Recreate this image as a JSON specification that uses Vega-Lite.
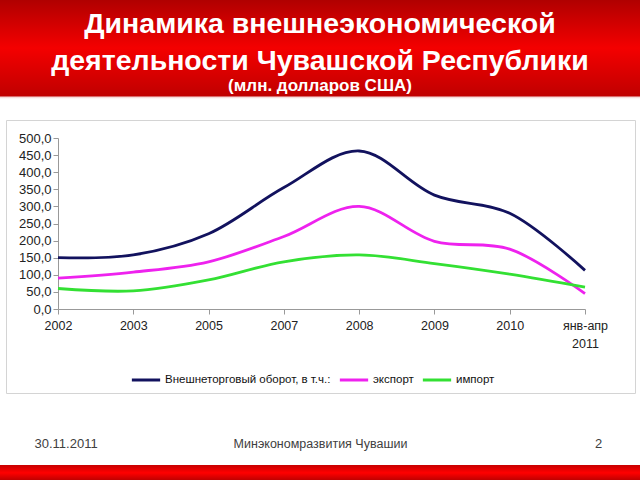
{
  "$schema": "https://vega.github.io/schema/vega-lite/v6.json",
  "width": 640,
  "height": 480,
  "padding": 0,
  "autosize": {"type": "none"},
  "background": "white",
  "view": {
    "stroke": null,
    "fill": {
      "gradient": "linear", "x1": 0, "y1": 0, "x2": 0, "y2": 1,
      "stops": [
        {"offset": 0, "color": "#b00000"},
        {"offset": 0.1, "color": "#f40000"},
        {"offset": 0.2, "color": "#c00000"},
        {"offset": 0.202, "color": "#f2d0d0"},
        {"offset": 0.206, "color": "#ffffff"},
        {"offset": 0.968, "color": "#ffffff"},
        {"offset": 0.969, "color": "#c80000"},
        {"offset": 0.985, "color": "#ff0000"},
        {"offset": 1, "color": "#c00000"}
      ]
    }
  },
  "title": {
    "text": ["Динамика внешнеэкономической", "деятельности Чувашской Республики"],
    "subtitle": "(млн. долларов США)",
    "anchor": "middle",
    "frame": "group",
    "offset": -94,
    "font": "Liberation Sans",
    "fontSize": 28.5,
    "fontWeight": "bold",
    "color": "white",
    "lineHeight": 37,
    "subtitleFont": "Liberation Sans",
    "subtitleFontSize": 17,
    "subtitleFontWeight": "bold",
    "subtitleColor": "white",
    "subtitlePadding": 3
  },
  "data": {
    "values": [
      {"year": "2002", "series": "Внешнеторговый оборот, в т.ч.:", "value": 150},
      {"year": "2003", "series": "Внешнеторговый оборот, в т.ч.:", "value": 158},
      {"year": "2005", "series": "Внешнеторговый оборот, в т.ч.:", "value": 220},
      {"year": "2007", "series": "Внешнеторговый оборот, в т.ч.:", "value": 355},
      {"year": "2008", "series": "Внешнеторговый оборот, в т.ч.:", "value": 462},
      {"year": "2009", "series": "Внешнеторговый оборот, в т.ч.:", "value": 333},
      {"year": "2010", "series": "Внешнеторговый оборот, в т.ч.:", "value": 280},
      {"year": "янв-апр 2011", "series": "Внешнеторговый оборот, в т.ч.:", "value": 113},
      {"year": "2002", "series": "экспорт", "value": 90},
      {"year": "2003", "series": "экспорт", "value": 108},
      {"year": "2005", "series": "экспорт", "value": 138},
      {"year": "2007", "series": "экспорт", "value": 212},
      {"year": "2008", "series": "экспорт", "value": 300},
      {"year": "2009", "series": "экспорт", "value": 198},
      {"year": "2010", "series": "экспорт", "value": 175},
      {"year": "янв-апр 2011", "series": "экспорт", "value": 45},
      {"year": "2002", "series": "импорт", "value": 60},
      {"year": "2003", "series": "импорт", "value": 53},
      {"year": "2005", "series": "импорт", "value": 85},
      {"year": "2007", "series": "импорт", "value": 138},
      {"year": "2008", "series": "импорт", "value": 158},
      {"year": "2009", "series": "импорт", "value": 133},
      {"year": "2010", "series": "импорт", "value": 102},
      {"year": "янв-апр 2011", "series": "импорт", "value": 64}
    ]
  },
  "layer": [
    {
      "mark": {"type": "line", "interpolate": "catmull-rom", "strokeWidth": 2.8},
      "encoding": {
        "x": {
          "field": "year", "type": "ordinal",
          "scale": {"type": "point", "padding": 0, "domain": ["2002", "2003", "2005", "2007", "2008", "2009", "2010", "янв-апр 2011"], "range": [58, 585]},
          "axis": {
            "orient": "bottom", "offset": -171, "title": null,
            "labelAngle": 0, "labelFont": "Liberation Sans", "labelFontSize": 12.5, "labelColor": "#222222",
            "labelPadding": 5, "labelLineHeight": 18,
            "labelExpr": "datum.value == 'янв-апр 2011' ? ['янв-апр', '2011'] : datum.value",
            "domainColor": "#999999", "tickColor": "#999999", "tickSize": 5, "grid": false
          }
        },
        "y": {
          "field": "value", "type": "quantitative",
          "scale": {"domain": [0, 500], "range": [309, 138], "nice": false, "zero": false},
          "axis": {
            "orient": "left", "offset": -58, "title": null,
            "values": [0, 50, 100, 150, 200, 250, 300, 350, 400, 450, 500],
            "labelExpr": "replace(format(datum.value, '.1f'), '.', ',')",
            "labelFont": "Liberation Sans", "labelFontSize": 13, "labelColor": "#222222", "labelPadding": 2,
            "domainColor": "#999999", "tickColor": "#999999", "tickSize": 5, "grid": false
          }
        },
        "color": {
          "field": "series", "type": "nominal",
          "scale": {
            "domain": ["Внешнеторговый оборот, в т.ч.:", "экспорт", "импорт"],
            "range": ["#12125e", "#ee22ee", "#33e033"]
          },
          "legend": {
            "orient": "none", "legendX": 130, "legendY": 364, "direction": "horizontal",
            "title": null, "symbolType": "stroke", "symbolStrokeWidth": 3, "symbolSize": 800,
            "labelFont": "Liberation Sans", "labelFontSize": 11.5, "labelColor": "#111111",
            "labelLimit": 400, "columnPadding": 2, "labelOffset": 3
          }
        }
      }
    },
    {
      "mark": {"type": "point", "opacity": 0},
      "encoding": {
        "x": {
          "field": "year", "type": "ordinal",
          "scale": {"type": "point", "padding": 0, "domain": ["2002", "2003", "2005", "2007", "2008", "2009", "2010", "янв-апр 2011"], "range": [6, 635]},
          "axis": {"orient": "top", "offset": -120, "title": null, "labels": false, "ticks": false, "grid": false, "domainColor": "#d4d4d4"}
        },
        "y": {
          "field": "value", "type": "quantitative",
          "scale": {"domain": [0, 500], "range": [393, 120], "nice": false, "zero": false},
          "axis": {
            "orient": "right", "offset": -5, "labels": false, "ticks": false, "grid": false, "domainColor": "#d4d4d4",
            "title": "2", "titleAngle": 0, "titleX": -37, "titleY": 443, "titleAlign": "center", "titleBaseline": "middle",
            "titleFont": "Liberation Sans", "titleFontSize": 13, "titleFontWeight": "normal", "titleColor": "#404040"
          }
        }
      }
    },
    {
      "mark": {"type": "point", "opacity": 0},
      "encoding": {
        "x": {
          "field": "year", "type": "ordinal",
          "scale": {"type": "point", "padding": 0, "domain": ["2002", "2003", "2005", "2007", "2008", "2009", "2010", "янв-апр 2011"], "range": [6, 635]},
          "axis": {
            "orient": "bottom", "offset": -87, "labels": false, "ticks": false, "grid": false, "domainColor": "#d4d4d4",
            "title": "Минэкономразвития Чувашии", "titleX": 320, "titleY": 50, "titleAlign": "center", "titleBaseline": "middle",
            "titleFont": "Liberation Sans", "titleFontSize": 12.5, "titleFontWeight": "normal", "titleColor": "#404040"
          }
        },
        "y": {
          "field": "value", "type": "quantitative",
          "scale": {"domain": [0, 500], "range": [393, 120], "nice": false, "zero": false},
          "axis": {
            "orient": "left", "offset": -6, "labels": false, "ticks": false, "grid": false, "domainColor": "#d4d4d4",
            "title": "30.11.2011", "titleAngle": 0, "titleX": 28, "titleY": 443, "titleAlign": "left", "titleBaseline": "middle",
            "titleFont": "Liberation Sans", "titleFontSize": 13, "titleFontWeight": "normal", "titleColor": "#404040"
          }
        }
      }
    }
  ],
  "resolve": {
    "scale": {"x": "independent", "y": "independent"},
    "axis": {"x": "independent", "y": "independent"}
  }
}
